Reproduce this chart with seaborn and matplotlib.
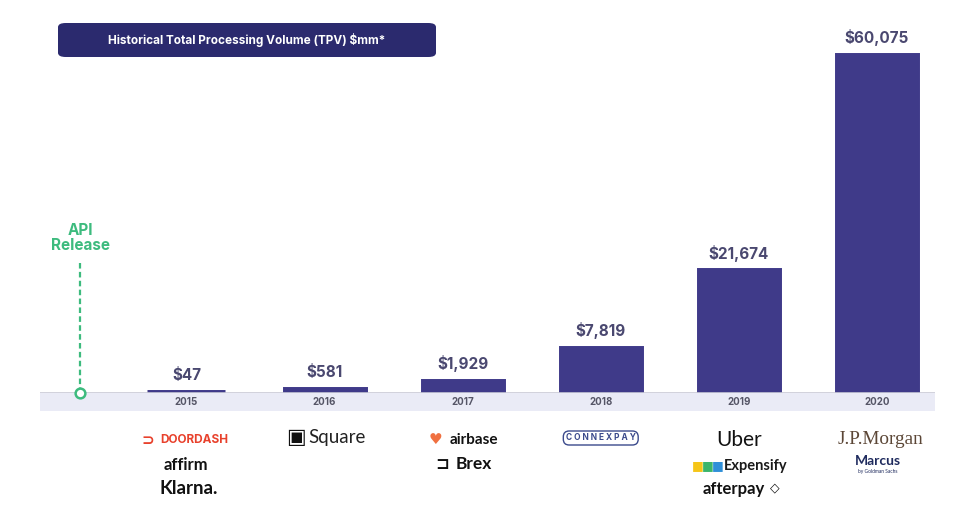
import numpy as np
import pandas as pd
import seaborn as sns
import matplotlib.pyplot as plt
from matplotlib import transforms
from matplotlib.patches import FancyBboxPatch, Rectangle

# chart data
years = ['2015', '2016', '2017', '2018', '2019', '2020']
tpv = [47, 581, 1929, 7819, 21674, 60075]
title = 'Historical Total Processing Volume (TPV) $mm*'
api_label = 'API\nRelease'

# partner names under each year: (text, colour, size, weight, family, row px, dx px)
partners = {
    '2015': [('DOORDASH', '#e8412c', 8.5, 'bold', 'Inter', 440, 8),
             ('affirm', '#111111', 12, 'bold', 'Lato', 465, 0),
             ('Klarna.', '#111111', 13.5, 'bold', 'Lato', 489, 2)],
    '2016': [('Square', '#222222', 13.5, 'normal', 'Lato', 438, 12)],
    '2017': [('airbase', '#111111', 11, 'bold', 'Lato', 440, 11),
             ('Brex', '#111111', 12.5, 'bold', 'Lato', 464, 11)],
    '2018': [('C O N N E X P A Y', '#3b4a8c', 6, 'bold', 'Inter', 438, 0)],
    '2019': [('Uber', '#111111', 15, 'normal', 'Lato', 440, 0),
             ('Expensify', '#1a1a1a', 10.5, 'bold', 'Lato', 466, 17),
             ('afterpay', '#111111', 12, 'bold', 'Lato', 489, -5)],
    '2020': [('J.P.Morgan', '#5b4636', 13.8, 'normal', 'Liberation Serif', 440, 3),
             ('Marcus', '#1f2b5e', 10, 'bold', 'Lato', 461, 1),
             ('by Goldman Sachs', '#1f2b5e', 3.5, 'normal', 'Lato', 472, 1)],
}
# small logo marks: (year, char, colour, size, row px, dx px)
icons = [('2015', '\u2283', '#e8412c', 11, 440, -39),
         ('2016', '\u25A3', '#111111', 15, 437, -29),
         ('2017', '\u2665', '#f07040', 11, 440, -27),
         ('2017', '\u2290', '#111111', 12, 464, -20),
         ('2019', '\u25A0', '#f5c518', 9, 466, -41),
         ('2019', '\u25A0', '#3bb56b', 9, 466, -31),
         ('2019', '\u25A0', '#2f8fd8', 9, 466, -21),
         ('2019', '\u25C7', '#111111', 9, 488, 36)]

df = pd.DataFrame({'year': years, 'tpv': tpv})

sns.set_theme(style='white')
plt.rcParams['font.family'] = ['Lato', 'DejaVu Sans']

W, H = 962, 519
fig = plt.figure(figsize=(W / 100, H / 100), dpi=100)
ax = fig.add_axes([40 / W, (H - 393) / H, 895 / W, 373 / H])

bar_color = '#3f3a89'
label_color = '#4a4870'
# thick same-colour edge gives the tiny bars some visible height, like the original
sns.barplot(data=df, x='year', y='tpv', color=bar_color, width=0.565,
            saturation=1, edgecolor=bar_color, linewidth=5, ax=ax, zorder=3)

ax.set_xlim(-1.06, 5.42)
ax.set_ylim(0, 66400)
ax.set_xlabel('')
ax.set_ylabel('')
ax.set_xticks([])
ax.set_yticks([])
for s in ax.spines.values():
    s.set_visible(False)

# baseline and light band with year labels
tf = transforms.blended_transform_factory(ax.transData, fig.transFigure)
band = Rectangle((-1.06, (H - 411) / H), 6.48, 18 / H, transform=tf,
                 facecolor='#eaebf6', edgecolor='none', zorder=4, clip_on=False)
ax.add_patch(band)
ax.axhline(0, color='#c9c9d6', lw=1.2, zorder=5)
for i, y in enumerate(years):
    ax.text(i, (H - 402) / H, y, transform=tf, ha='center', va='center',
            fontsize=7, fontweight='bold', color='#555566', family='Inter', zorder=6)

# value labels
for i, v in enumerate(tpv):
    ax.annotate(f'${v:,}', (i, v), xytext=(0, 7), textcoords='offset points',
                ha='center', va='bottom', fontsize=11, fontweight='bold',
                color=label_color, family='Inter')

# API release marker
green = '#3dbb7e'
api_x = -0.77
ax.axvline(api_x, ymin=0, ymax=131 / 373, ls=(0, (2.5, 1.5)), color=green, lw=1.6,
           zorder=6, clip_on=False)
ax.plot(api_x, 0, 'o', ms=7, mfc='white', mec=green, mew=1.8, zorder=7, clip_on=False)
ax.text(api_x, (H - 238) / H, api_label, transform=tf, ha='center',
        va='center', fontsize=11, fontweight='bold', color=green, family='Inter',
        linespacing=0.95)

# partner rows
for i, y in enumerate(years):
    for txt, col, fs, fw, fam, py, dx in partners[y]:
        bbox = None
        if txt.startswith('C O N'):
            bbox = dict(boxstyle='round,pad=0.3,rounding_size=0.7', fc='white',
                        ec=col, lw=1)
        ax.annotate(txt, (i, (H - py) / H), xycoords=tf, xytext=(dx, 0),
                    textcoords='offset pixels', ha='center', va='center',
                    fontsize=fs, fontweight=fw, color=col,
                    family=[fam, 'DejaVu Sans'], bbox=bbox, zorder=5)
for y, ch, col, fs, py, dx in icons:
    ax.annotate(ch, (years.index(y), (H - py) / H), xycoords=tf, xytext=(dx, 0),
                textcoords='offset pixels', ha='center', va='center',
                fontsize=fs, fontweight='bold', color=col, family='DejaVu Sans')

# title box
box = FancyBboxPatch((58 / W, (H - 57) / H), 378 / W, 34 / H,
                     boxstyle='round,pad=0,rounding_size=0.008',
                     transform=fig.transFigure, facecolor='#2b2a6e',
                     edgecolor='none', zorder=10)
fig.patches.append(box)
fig.text(247 / W, (H - 40) / H, title, ha='center', va='center', fontsize=8.5,
         fontweight='bold', color='white', family='Inter', zorder=11)

fig.savefig('out.png', dpi=100, facecolor='white')
